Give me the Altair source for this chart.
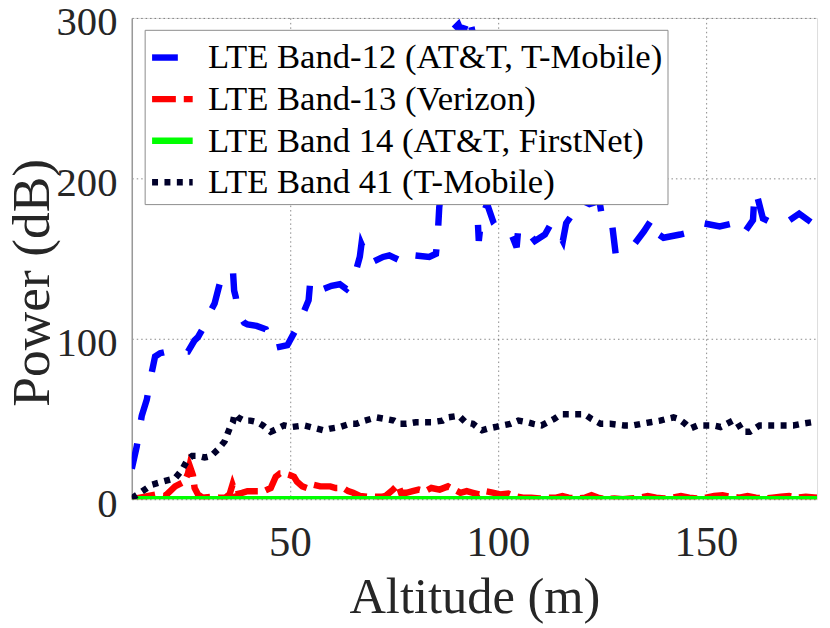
import altair as alt
import pandas as pd

# ---- data ----
b12_x = [12, 13.2, 14.4, 15.6, 16.8, 17.6, 18.8, 20.5, 22.4, 24, 25.5, 27.1, 27.9, 29, 30.3, 31.9, 33.1, 34.1,
         35.1, 36.3, 36.6, 37, 37.5, 39, 39.8, 42, 44.2, 45.8, 47.5, 49.4, 51.7, 52.1, 54.5, 54.9, 56.5, 58, 60,
         62, 63.6, 65.2, 66.8, 67.2, 69.2, 70.8, 72.4, 73.9, 76.3, 77.1, 78.3, 80, 83.5, 85.1, 85.5, 85.9, 86.3,
         87.5, 89, 90.5, 91.5, 93, 94, 95, 95.4, 96, 97.4, 99, 100.5, 103.3, 104.5, 104.9, 106.5, 108.9, 111.3,
         112.8, 114.8, 115.6, 116.4, 118, 120.4, 122, 124.4, 125, 126.7, 127.5, 128.3, 130, 131.9, 135.1, 137.1,
         137.5, 139.8, 143.8, 147, 149.4, 153.3, 156.5, 158.9, 161.3, 161.7, 162.2, 163.7, 166.8, 169, 172.4,
         175.6, 176.7]
b12_y = [19, 33, 52, 62, 79, 89, 91, 92, 92, 92, 92, 99, 101, 106, 114, 122, 134, 136,
         138, 143, 130, 126, 116, 110, 109, 108, 106, 94, 95, 96, 107, 109, 124, 136, 130, 131, 133,
         134, 131, 136, 151, 159, 147, 149, 151, 152, 149, 154, 154, 152, 151, 153, 163, 182, 190,
         230, 292, 296, 290, 302, 290, 182, 161, 175, 184, 172, 167, 165, 157, 169, 169, 161, 165,
         172, 165, 161, 172, 178, 186, 184, 186, 176, 169, 170, 153, 154, 156, 167, 175,
         167, 163, 165, 167, 172, 170, 172, 165, 174, 192, 190, 175, 171, 172, 178,
         172, 172]

b13_x = [12, 14, 16, 18, 20, 22.4, 24.7, 25.5, 25.9, 26.7, 27.1, 27.9, 29, 31, 33, 34.5, 35.5, 36.2, 37, 38.5,
         39.8, 42, 43.7, 45.4, 46.6, 47.6, 48.6, 50, 51, 51.7, 53, 54.1, 55.7, 57.3, 59.7, 61, 62.8, 64, 65.2,
         66.8, 68.5, 70, 72, 73, 74.8, 76, 76.7, 78, 79.5, 81, 82.5, 84, 86, 88, 89.5, 91, 92.5, 94, 95.5, 97,
         99, 100.5, 102.5, 104, 106, 108, 110, 112, 114, 115.5, 117, 119, 121, 122.5, 124, 126, 128, 130, 132,
         134, 136, 138, 140, 142, 144, 146, 148, 150, 152, 154, 156, 158, 160, 162, 164, 166, 168, 170, 172,
         174, 176.7]
b13_y = [0, 1, 2, 3, 2, 8, 11, 16, 21, 15, 7, 3, 1, 1.5, 1, 1, 3, 9, 3, 4,
         5, 5, 5, 7, 14, 16, 16, 15, 14, 11, 8, 7, 9, 8, 8, 7, 7, 5, 4,
         2, 1.5, 1.5, 1.5, 2, 6, 9, 4, 4, 5, 6, 5, 7, 6, 8, 6, 4, 5, 4, 3, 5,
         4, 3, 3.5, 2, 1, 1, 0.5, 1, 1, 2, 1, 0.5, 1, 2.5, 1, 0, 0.5, 0, 0.5,
         1, 2, 1, 0.5, 1, 2, 1, 0.5, 1, 2, 2.5, 1.5, 1, 2, 1, 0.5, 1, 1.5, 2, 1,
         1.5, 1]

b14_x = [12, 50, 100, 150, 176.7]
b14_y = [0, 0, 0, 0, 0]

b41_x = [12, 14, 16.8, 19.5, 22.4, 24, 25.5, 26.5, 27.9, 29.5, 31.1, 32.7, 34.3, 35.5, 36.3, 36.7, 37.5, 39,
         40.5, 42.2, 43.5, 45.4, 47, 48.6, 50.5, 53.3, 55, 56.5, 58, 59.7, 62, 64.4, 66, 68, 70.8, 73, 75, 76.3,
         78, 80.3, 82, 84, 86.7, 88, 90.6, 92.2, 94, 95, 96.2, 97.5, 99.4, 101, 103, 104.9, 107, 108.5, 110.5,
         112, 113.5, 115.2, 117, 119, 120.8, 122.5, 124.7, 127, 130.3, 132.5, 134.5, 136.7, 139, 140.5, 142.2,
         143.5, 145, 146.2, 148, 150, 151.7, 153.5, 155, 156.5, 157.5, 158.9, 160.5, 162.9, 165, 168.4, 171,
         173, 175.6, 176.7]
b41_y = [0.6, 4, 9, 11, 13, 18, 25, 27, 27, 26, 27, 31, 36, 44, 48, 53, 51, 49,
         49, 48, 46, 42, 44, 46, 45, 46, 45, 44, 43, 44, 45, 47, 47, 49, 51, 50, 49, 47,
         47, 48, 48, 48, 49, 51, 52, 48, 47, 45, 43, 44, 45, 46, 47, 49, 48, 47, 46,
         48, 50, 53, 53, 53, 53, 50, 47, 47, 46, 46, 47, 48, 49, 50, 51,
         50, 47, 44, 46, 46, 46, 45, 47, 49, 48, 42, 42, 46, 46, 46, 46,
         47, 48, 48]

series_names = ["LTE Band-12 (AT&T, T-Mobile)", "LTE Band-13 (Verizon)",
                "LTE Band 14 (AT&T, FirstNet)", "LTE Band 41 (T-Mobile)"]
series_colors = ["#0000ff", "#ff0000", "#00ff00", "#00002a"]
series_dash = [[26, 24], [24, 8], [1, 0], [6, 6.5]]

y_ticks = [0, 100, 200, 300]
x_ticks = [50, 100, 150]

rows = []
for name, xs, ys in zip(series_names, [b12_x, b13_x, b14_x, b41_x], [b12_y, b13_y, b14_y, b41_y]):
    for i, (xv, yv) in enumerate(zip(xs, ys)):
        rows.append({"band": name, "alt": xv, "power": yv, "i": i})
df = pd.DataFrame(rows)

FONT = "Liberation Serif"

legend_cfg = dict(
    title=None, orient="none", legendX=13, legendY=12,
    symbolType="stroke", symbolSize=1681, symbolStrokeWidth=6.5,
    labelFont=FONT, labelFontSize=35, labelColor="#000000", labelOffset=12,
    rowPadding=0, padding=4, strokeColor="#8c8c8c", fillColor="#ffffff",
    labelLimit=600,
)

chart = alt.Chart(df).mark_line(strokeWidth=6.5, clip=True, strokeCap="butt").encode(
    x=alt.X("alt:Q", scale=alt.Scale(domain=[12, 176.7], nice=False, zero=False),
            axis=alt.Axis(title="Altitude (m)", values=x_ticks, grid=True, ticks=False, tickSize=0,
                          labelFont=FONT, labelFontSize=43, labelColor="#262626",
                          labelBaseline="alphabetic", labelPadding=57,
                          titleFont=FONT, titleFontSize=51, titleFontWeight="normal", titleColor="#262626",
                          titleBaseline="alphabetic", titleY=114,
                          domain=False, gridDash=[1.5, 3], gridColor="#262626", gridOpacity=0.55)),
    y=alt.Y("power:Q", scale=alt.Scale(domain=[0, 300], nice=False),
            axis=alt.Axis(title="Power (dB)", values=y_ticks, grid=True, ticks=False, tickSize=0,
                          labelFont=FONT, labelFontSize=41, labelColor="#262626", labelPadding=15,
                          labelOffset=5,
                          titleFont=FONT, titleFontSize=54, titleFontWeight="normal", titleColor="#262626",
                          titleBaseline="alphabetic", titleAngle=-90, titleX=-84, titleY=267,
                          domainColor="#999999", domainWidth=1.5,
                          gridDash=[1.5, 3], gridColor="#262626", gridOpacity=0.55)),
    color=alt.Color("band:N", scale=alt.Scale(domain=series_names, range=series_colors),
                    legend=alt.Legend(**legend_cfg)),
    strokeDash=alt.StrokeDash("band:N", scale=alt.Scale(domain=series_names, range=series_dash),
                              legend=alt.Legend(**legend_cfg)),
    order="i:Q",
).properties(
    width=692, height=486,
    autosize=alt.AutoSizeParams(type="none"),
    padding={"left": 125, "top": 7, "right": 5, "bottom": 125},
).configure_view(stroke="#262626", strokeWidth=1.2).configure(background="white")

chart.save("out.html", embed_options={"renderer": "svg", "actions": False})
